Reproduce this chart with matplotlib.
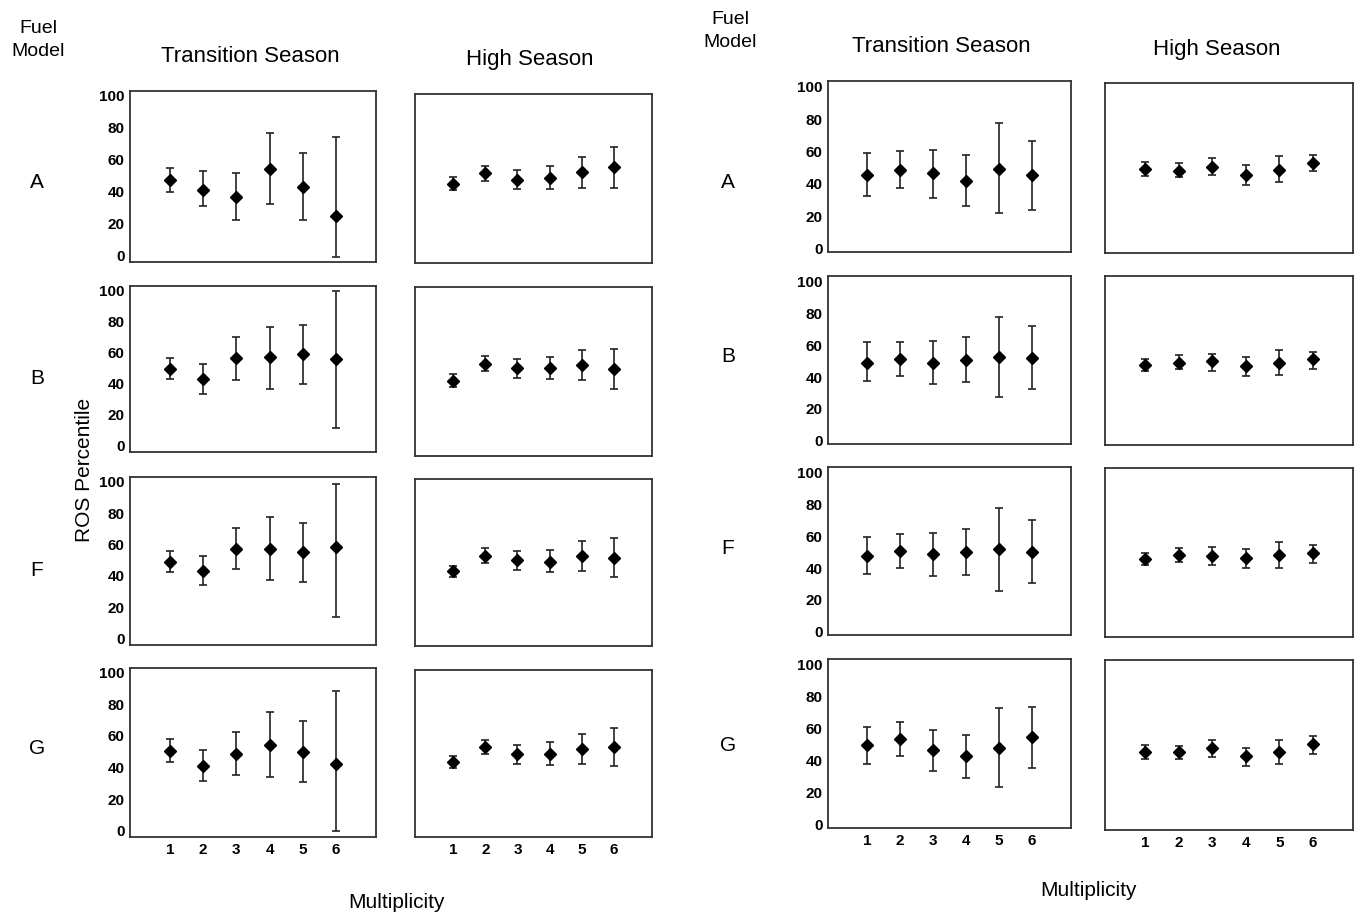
import numpy as np
import matplotlib.pyplot as plt

plt.rcParams['font.family'] = ['Liberation Sans', 'DejaVu Sans']

W, H = 1361, 921

fuel_models = ['A', 'B', 'F', 'G']
multiplicity = [1, 2, 3, 4, 5, 6]
y_ticks = [0, 20, 40, 60, 80, 100]

# left figure, transition season (rows A, B, F, G)
lt_mean = [[47, 41, 36.5, 54, 43, 25],
           [49.5, 43, 56.4, 57, 59, 55.8],
           [49, 43.4, 57.2, 57.4, 55, 58.5],
           [50.6, 41.2, 48.5, 54.2, 50, 42]]
lt_lo = [[40, 31, 22, 32.5, 22, -1],
         [42.8, 33.5, 42.5, 36.5, 40, 11.3],
         [42.5, 34, 44.2, 37.5, 36, 14],
         [43.3, 31.7, 35, 34.2, 30.8, 0]]
lt_hi = [[55, 53, 52, 76.5, 64, 74],
         [56.4, 53, 70, 76.7, 78, 100],
         [56, 52.8, 70.6, 77.4, 73.4, 98.5],
         [58.3, 51.2, 62.7, 75.4, 69.6, 88.5]]

# left figure, high season
lh_mean = [[46, 52.8, 48.6, 50.1, 53.5, 57],
           [43.8, 54.5, 51.6, 51.8, 53.3, 51],
           [44, 53.9, 50.8, 50.1, 53.5, 52.4],
           [44.2, 53.6, 49.4, 49.4, 52.1, 53.6]]
lh_lo = [[42, 48, 43, 43, 43.8, 43.8],
         [39.8, 50.1, 45.5, 44.5, 44, 38.6],
         [40.3, 49.3, 44.9, 43.4, 44, 40],
         [40, 49, 43, 42.1, 42.7, 41.3]]
lh_hi = [[50.3, 57.7, 55, 57.4, 63.3, 69.6],
         [48, 59, 57.4, 58.9, 63, 63.5],
         [47.4, 58.7, 56.8, 57.7, 63.1, 65],
         [48, 58, 54.8, 56.9, 61.7, 66]]

# right figure, transition season
rt_mean = [[45.6, 48.7, 46.6, 41.9, 49.5, 45.2],
           [49, 51.6, 49, 50.7, 52.4, 52.2],
           [47.6, 50.7, 48.6, 49.9, 51.8, 50.1],
           [49.9, 53.6, 46.8, 43.1, 48, 54.6]]
rt_lo = [[32.6, 37.4, 31.6, 26.5, 22.2, 23.8],
         [37.5, 40.9, 35.6, 36.7, 27.3, 32.5],
         [36, 40.3, 35.2, 35.6, 25.8, 30.4],
         [38.1, 43.1, 33.4, 29.3, 23.3, 35.7]]
rt_hi = [[59, 60.4, 61.2, 57.9, 77.8, 66.5],
         [61.8, 62.3, 62.9, 65, 78, 72.1],
         [59.7, 61.4, 62.3, 64.4, 77.6, 70.2],
         [61.2, 64.1, 59.4, 56.3, 72.8, 73.6]]

# right figure, high season
rh_mean = [[50.1, 49.1, 51.3, 46.6, 49.7, 53.8],
           [48, 49.5, 50.3, 47.6, 49.5, 51.4],
           [46.7, 49, 48.8, 47.2, 49, 50.3],
           [46.4, 46.2, 49.1, 43.7, 46.2, 51.1]]
rh_lo = [[46, 45.2, 46.2, 40.2, 41.9, 48.7],
         [44, 45.3, 44.5, 41.3, 41.9, 45.5],
         [43, 45.1, 43.2, 40.9, 41.3, 44.5],
         [42.2, 41.9, 43.3, 37.5, 39.2, 45.3]]
rh_hi = [[54.6, 53.8, 56.9, 52.8, 57.9, 59],
         [51.8, 54.3, 54.9, 52.8, 57.4, 56],
         [50.7, 53.5, 53.9, 53, 57, 55.5],
         [50.5, 50.3, 54, 48.9, 54, 56.1]]

fig = plt.figure(figsize=(W / 100, H / 100), dpi=100)


def px_axes(x0, y0, x1, y1):
    return fig.add_axes([x0 / W, 1 - y1 / H, (x1 - x0) / W, (y1 - y0) / H])


def draw_panel(ax, mean, lo, hi, ylim, show_y, show_x):
    mean = np.array(mean)
    err = [mean - np.array(lo), np.array(hi) - mean]
    ax.errorbar(multiplicity, mean, yerr=err, fmt='D', color='black',
                ecolor='#222222', elinewidth=1.2, capsize=3, capthick=1.2,
                markersize=6)
    ax.set_xlim(-0.2, 7.2)
    ax.set_ylim(*ylim)
    ax.tick_params(length=0, pad=4)
    ax.set_yticks(y_ticks)
    ax.set_xticks(multiplicity)
    if not show_y:
        ax.set_yticklabels([])
    if not show_x:
        ax.set_xticklabels([])
    for lab in ax.get_xticklabels() + ax.get_yticklabels():
        lab.set_fontsize(11)
        lab.set_fontweight('bold')
    for s in ax.spines.values():
        s.set_linewidth(1.3)
        s.set_color('#333333')


# pixel boxes for each row: (top, bottom)
left_t_rows = [(91, 262), (286, 452), (477, 645), (668, 837)]
left_h_rows = [(94, 263), (287, 456), (479, 646), (670, 837)]
right_t_rows = [(81, 252), (276, 444), (467, 635), (659, 828)]
right_h_rows = [(83, 253), (276, 445), (468, 637), (660, 830)]

for i in range(4):
    last = i == 3
    ax = px_axes(130, left_t_rows[i][0], 376, left_t_rows[i][1])
    draw_panel(ax, lt_mean[i], lt_lo[i], lt_hi[i], (-4, 103), True, last)
    ax = px_axes(415, left_h_rows[i][0], 652, left_h_rows[i][1])
    draw_panel(ax, lh_mean[i], lh_lo[i], lh_hi[i], (-4, 103), False, last)
    ax = px_axes(828, right_t_rows[i][0], 1071, right_t_rows[i][1])
    draw_panel(ax, rt_mean[i], rt_lo[i], rt_hi[i], (-2, 103.5), True, last)
    ax = px_axes(1105, right_h_rows[i][0], 1353, right_h_rows[i][1])
    draw_panel(ax, rh_mean[i], rh_lo[i], rh_hi[i], (-2, 103.5), False, last)


def ftext(x, y, s, **kw):
    fig.text(x / W, 1 - y / H, s, ha='center', va='center', **kw)


ftext(38, 40, 'Fuel\nModel', fontsize=14, linespacing=1.4)
ftext(730, 31, 'Fuel\nModel', fontsize=14, linespacing=1.4)
ftext(250, 57, 'Transition Season', fontsize=16)
ftext(530, 60, 'High Season', fontsize=16)
ftext(941, 47, 'Transition Season', fontsize=16)
ftext(1217, 50, 'High Season', fontsize=16)

left_letter_y = [183, 378, 570, 748]
right_letter_y = [183, 357, 548, 745]
for k, name in enumerate(fuel_models):
    ftext(37, left_letter_y[k], name, fontsize=15)
    ftext(728, right_letter_y[k], name, fontsize=15)

ftext(84, 470, 'ROS Percentile', fontsize=15, rotation=90)
ftext(396, 902, 'Multiplicity', fontsize=15)
ftext(1088, 890, 'Multiplicity', fontsize=15)

fig.savefig('out.png', dpi=100)
